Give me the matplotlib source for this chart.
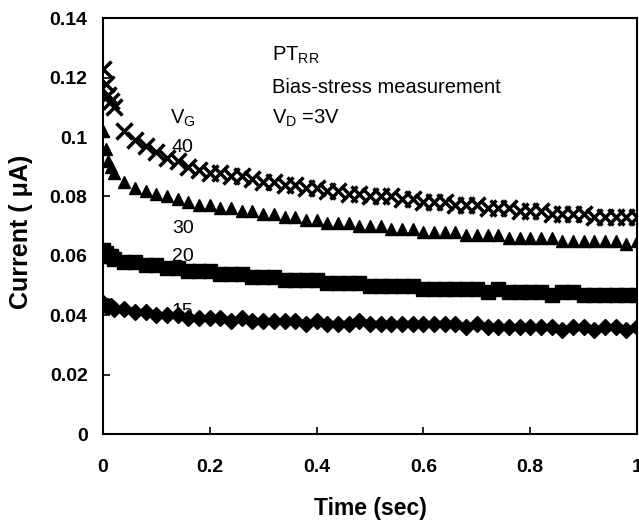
import matplotlib
matplotlib.use("Agg")
import matplotlib.pyplot as plt

plt.rcParams['font.family'] = ['Liberation Sans', 'DejaVu Sans']
plt.rcParams['mathtext.fontset'] = 'custom'
plt.rcParams['mathtext.rm'] = 'Liberation Sans'
plt.rcParams['mathtext.it'] = 'Liberation Sans'

# time samples (sec)
t = [0, 0.005, 0.01, 0.015,
     0.02, 0.04, 0.06, 0.08, 0.10, 0.12, 0.14, 0.16, 0.18, 0.20,
     0.22, 0.24, 0.26, 0.28, 0.30, 0.32, 0.34, 0.36, 0.38, 0.40,
     0.42, 0.44, 0.46, 0.48, 0.50, 0.52, 0.54, 0.56, 0.58, 0.60,
     0.62, 0.64, 0.66, 0.68, 0.70, 0.72, 0.74, 0.76, 0.78, 0.80,
     0.82, 0.84, 0.86, 0.88, 0.90, 0.92, 0.94, 0.96, 0.98, 1.00]

# current (uA) for each gate voltage
i40 = [0.123, 0.118, 0.114, 0.112,
       0.110, 0.102, 0.099, 0.097, 0.095, 0.093, 0.092, 0.090, 0.089, 0.088,
       0.088, 0.087, 0.087, 0.086, 0.085, 0.085, 0.084, 0.084, 0.083, 0.083,
       0.082, 0.082, 0.081, 0.081, 0.080, 0.080, 0.080, 0.079, 0.079, 0.078,
       0.078, 0.078, 0.077, 0.077, 0.077, 0.076, 0.076, 0.076, 0.075, 0.075,
       0.075, 0.074, 0.074, 0.074, 0.074, 0.073, 0.073, 0.073, 0.073, 0.073]
i30 = [0.102, 0.096, 0.092, 0.090,
       0.088, 0.085, 0.083, 0.082, 0.081, 0.080, 0.079, 0.078, 0.077, 0.077,
       0.076, 0.076, 0.075, 0.075, 0.074, 0.074, 0.073, 0.073, 0.072, 0.072,
       0.071, 0.071, 0.071, 0.070, 0.070, 0.070, 0.069, 0.069, 0.069, 0.068,
       0.068, 0.068, 0.068, 0.067, 0.067, 0.067, 0.067, 0.066, 0.066, 0.066,
       0.066, 0.066, 0.065, 0.065, 0.065, 0.065, 0.065, 0.065, 0.064, 0.065]
i20 = [0.062, 0.061, 0.060, 0.060,
       0.059, 0.058, 0.058, 0.057, 0.057, 0.056, 0.056, 0.055, 0.055, 0.055,
       0.054, 0.054, 0.054, 0.053, 0.053, 0.053, 0.052, 0.052, 0.052, 0.052,
       0.051, 0.051, 0.051, 0.051, 0.050, 0.050, 0.050, 0.050, 0.050, 0.049,
       0.049, 0.049, 0.049, 0.049, 0.049, 0.048, 0.049, 0.048, 0.048, 0.048,
       0.048, 0.047, 0.048, 0.048, 0.047, 0.047, 0.047, 0.047, 0.047, 0.047]
i15 = [0.044, 0.043, 0.043, 0.043,
       0.042, 0.042, 0.041, 0.041, 0.040, 0.040, 0.040, 0.039, 0.039, 0.039,
       0.039, 0.038, 0.039, 0.038, 0.038, 0.038, 0.038, 0.038, 0.037, 0.038,
       0.037, 0.037, 0.037, 0.038, 0.037, 0.037, 0.037, 0.037, 0.037, 0.037,
       0.037, 0.037, 0.037, 0.036, 0.037, 0.036, 0.036, 0.036, 0.036, 0.036,
       0.036, 0.036, 0.035, 0.036, 0.036, 0.035, 0.036, 0.036, 0.035, 0.036]

fig = plt.figure(figsize=(6.39, 5.2), dpi=100)
ax = fig.add_axes([0.161, 0.165, 0.836, 0.80])

ax.plot(t, i40, 'x', color='black', ms=11, mew=2.5)
ax.plot(t, i30, '^', color='black', ms=9)
ax.plot(t, i20, 's', color='black', ms=10)
ax.plot(t, i15, 'D', color='black', ms=8)

ax.set_xlim(0, 1)
ax.set_ylim(0, 0.14)
ax.set_xticks([0, 0.2, 0.4, 0.6, 0.8, 1])
ax.set_xticklabels(['0', '0.2', '0.4', '0.6', '0.8', '1'])
ax.set_yticks([0, 0.02, 0.04, 0.06, 0.08, 0.1, 0.12, 0.14])
ax.set_yticklabels(['0', '0.02', '0.04', '0.06', '0.08', '0.1', '0.12', '0.14'])
ax.tick_params(direction='in', length=5, width=1.2, labelsize=14)
ax.tick_params(axis='x', pad=18)
ax.tick_params(axis='y', pad=11)
for lab in ax.get_xticklabels() + ax.get_yticklabels():
    lab.set_fontweight('bold')
for sp in ax.spines.values():
    sp.set_linewidth(1.5)

ax.set_xlabel('Time (sec)', fontsize=16.5, fontweight='bold', labelpad=15)
ax.set_ylabel('Current ( μA)', fontsize=18, fontweight='bold')
ax.yaxis.set_label_coords(-0.131, 0.486)

ax.text(0.316, 0.1276, r'PT$_{\mathrm{RR}}$', fontsize=14.5, va='center')
ax.text(0.316, 0.1168, 'Bias-stress measurement', fontsize=14.5, va='center')
ax.text(0.316, 0.1064, r'V$_{\mathrm{D}}$ =3V', fontsize=14.5, va='center')
ax.text(0.125, 0.1064, r'V$_{\mathrm{G}}$', fontsize=14.5, va='center')
ax.text(0.129, 0.0966, '40', fontsize=14, va='center')
ax.text(0.129, 0.0693, '30', fontsize=14, va='center')
ax.text(0.129, 0.0599, '20', fontsize=14, va='center')
ax.text(0.129, 0.0414, '15', fontsize=14, va='center')

fig.savefig('out.png', dpi=100)
